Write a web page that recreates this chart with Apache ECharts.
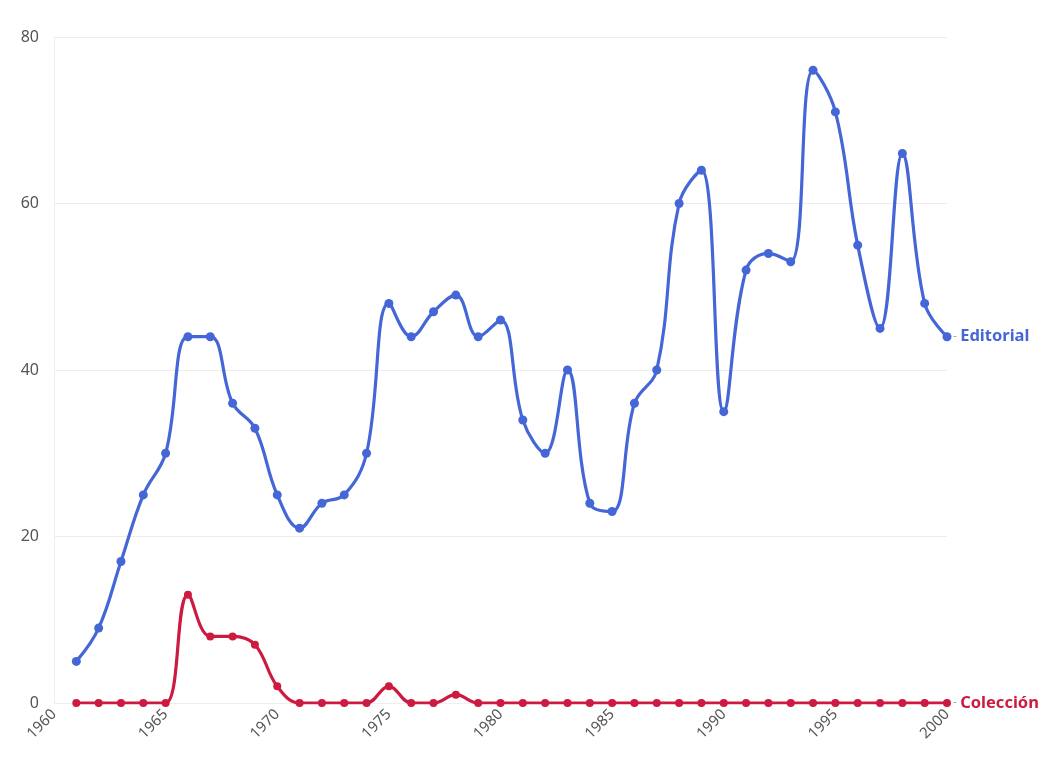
<!DOCTYPE html>
<html>
<head>
<meta charset="utf-8">
<script src="https://cdn.jsdelivr.net/npm/echarts@6/dist/echarts.min.js"></script>
<style>html,body{margin:0;padding:0;background:#fff}#c{width:1052px;height:767px}</style>
</head>
<body>
<div id="c"></div>
<script>
const years = [1961,1962,1963,1964,1965,1966,1967,1968,1969,1970,1971,1972,1973,1974,1975,1976,1977,1978,1979,1980,1981,1982,1983,1984,1985,1986,1987,1988,1989,1990,1991,1992,1993,1994,1995,1996,1997,1998,1999,2000];
const editorial = [5,9,17,25,30,44,44,36,33,25,21,24,25,30,48,44,47,49,44,46,34,30,40,24,23,36,40,60,64,35,52,54,53,76,71,55,45,66,48,44];
const coleccion = [0,0,0,0,0,13,8,8,7,2,0,0,0,0,2,0,0,1,0,0,0,0,0,0,0,0,0,0,0,0,0,0,0,0,0,0,0,0,0,0];
const seriesNames = ['Editorial','Colección'];
const colors = ['#4466d6','#cc1a40'];

const chart = echarts.init(document.getElementById('c'));
function mk(name, vals, color, size){
  return {
    name: name, type: 'line', smooth: 0.4,
    data: years.map((y,i)=>[y, vals[i]]),
    symbol: 'circle', symbolSize: size,
    lineStyle: {width: 3.2, color: color},
    itemStyle: {color: color},
    endLabel: {
      show: true, distance: 6,
      formatter: () => '{d|-} {n|' + name + '}',
      rich: {
        d: {color: '#aaa', fontSize: 12, fontFamily: 'Noto Sans'},
        n: {color: color, fontSize: 16.5, fontWeight: 'bold', fontFamily: 'Noto Sans'}
      }
    },
    emphasis: {disabled: true}
  };
}
chart.setOption({
  animation: false,
  backgroundColor: '#fff',
  grid: {left: 54, right: 105, top: 37, bottom: 64},
  xAxis: {
    type: 'value', min: 1960, max: 2000, interval: 5,
    axisLine: {show: true, lineStyle: {color: '#eee'}},
    axisTick: {show: false},
    splitLine: {show: false},
    axisLabel: {rotate: 45, color: '#555', fontSize: 15, fontFamily: 'Noto Sans', margin: 9,
      formatter: v => String(v)}
  },
  yAxis: {
    type: 'value', min: 0, max: 80, interval: 20,
    axisLine: {show: true, lineStyle: {color: '#eee'}},
    axisTick: {show: false},
    splitLine: {lineStyle: {color: '#ececec'}},
    axisLabel: {color: '#555', fontSize: 16, fontFamily: 'Noto Sans', margin: 15}
  },
  series: [mk(seriesNames[0], editorial, colors[0], 9), mk(seriesNames[1], coleccion, colors[1], 8)]
});
</script>
</body>
</html>
